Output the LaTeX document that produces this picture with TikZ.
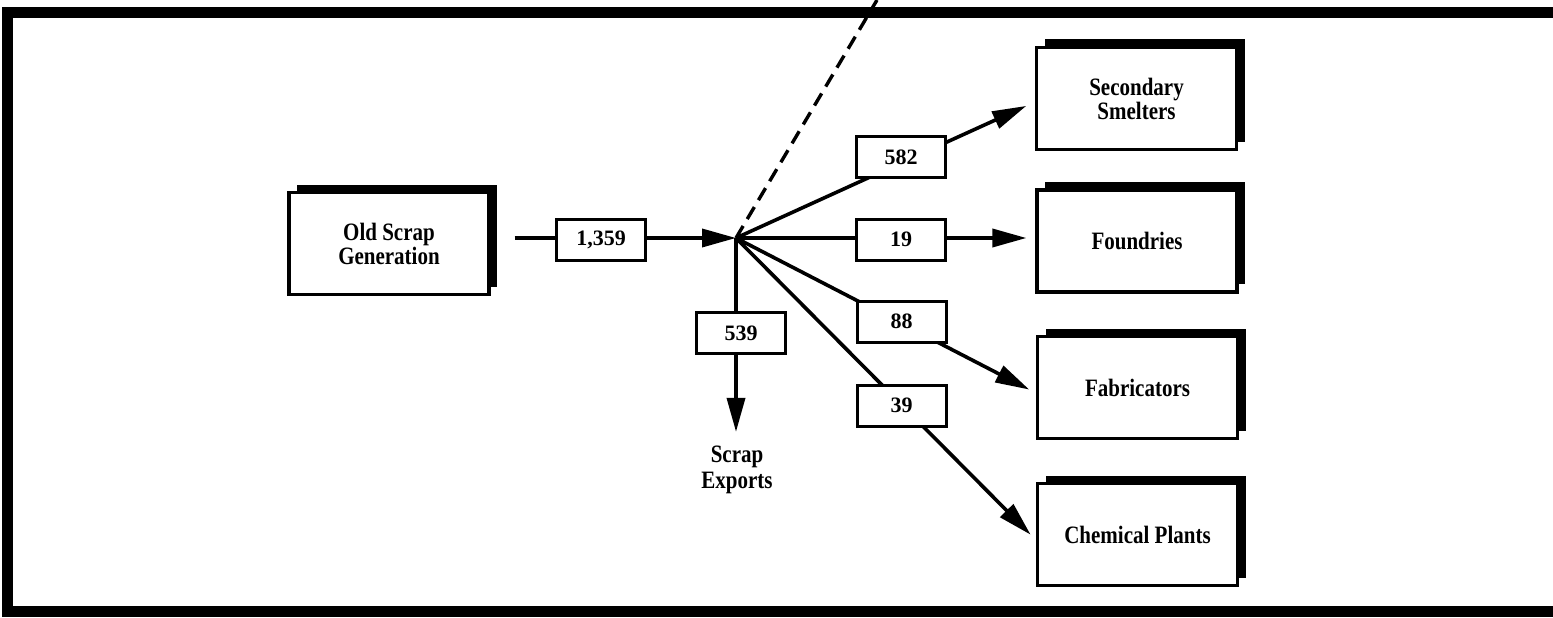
\documentclass[tikz,border=0pt]{standalone}
\usepackage{fontspec}
\setmainfont{Liberation Serif}[FakeStretch=0.84]
\newfontfamily\numfont{Liberation Serif}
\usetikzlibrary{arrows.meta,shadows,calc}
\pgfdeclarelayer{bg}
\pgfsetlayers{bg,main}
\begin{document}
\begin{tikzpicture}[x=1pt,y=-1pt,
  bigbox/.style={draw, line width=3.2pt, fill=white, minimum width=200pt, minimum height=102pt,
    inner sep=0pt, align=center, font=\fontsize{25}{24}\selectfont\bfseries,
    drop shadow={shadow xshift=8pt, shadow yshift=8pt, fill=black, opacity=1}},
  numbox/.style={draw, line width=3pt, fill=white, minimum width=89pt, minimum height=41pt,
    inner sep=0pt, font=\numfont\fontsize{22}{22}\selectfont\bfseries},
  flow/.style={line width=3.6pt, -{Triangle[length=34pt,width=18pt]}},
  dashline/.style={line width=3.4pt, dash pattern=on 14pt off 8pt},
  framebar/.style={line width=11pt, line join=miter},
  caption/.style={align=center, font=\fontsize{25}{26}\selectfont\bfseries, inner sep=2pt}]
\useasboundingbox (0,0) rectangle (1553,618);
\draw[framebar] (1553,13) -- (7.5,13) -- (7.5,611.5) -- (1553,611.5);

\node[bigbox] (old) at (389,243.5) {Old Scrap\\Generation};
\node[bigbox] (sec) at (1136.5,98.5) {Secondary\\Smelters};
\node[bigbox] (fou) at (1137,241) {Foundries};
\node[bigbox] (fab) at (1137.5,387.5) {Fabricators};
\node[bigbox] (che) at (1137.5,534.5) {Chemical Plants};

\coordinate (j) at (736,238);
\coordinate (dtop) at (877,0);

\node[numbox] (n1359) at (601,240) {1,359};
\node[numbox] (n582) at (901,157) {582};
\node[numbox] (n19) at (901,239.5) {19};
\node[numbox] (n88) at (901.5,321.5) {88};
\node[numbox] (n39) at (901.5,405.5) {39};
\node[numbox] (n539) at (741,333) {539};
\node[caption] (exp) at (737,470) {Scrap\\Exports};

\begin{pgfonlayer}{bg}
\draw[flow, shorten <=24pt] (j -| old.east) -- (j);
\draw[flow, shorten >=9.5pt] (j) -- ($(sec.west)+(0,3.5)$);
\draw[flow, shorten >=9pt] (j) -- (j -| fou.west);
\draw[flow, shorten >=7.5pt] (j) -- ($(fab.west)+(0,5.5)$);
\draw[flow, shorten >=7.5pt] (j) -- ($(che.west)+(0,5.5)$);
\draw[flow, shorten >=12pt] (j) -- (j |- exp.north);
\draw[dashline] (j) -- (dtop);
\end{pgfonlayer}
\end{tikzpicture}
\end{document}
